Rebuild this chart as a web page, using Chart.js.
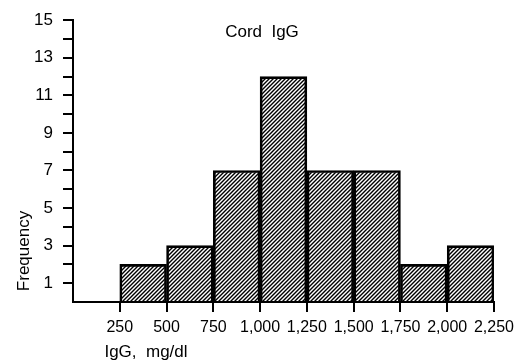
<!DOCTYPE html>
<html>
<head>
<meta charset="utf-8">
<script src="https://cdn.jsdelivr.net/npm/chart.js@4/dist/chart.umd.min.js"></script>
<style>
  html,body{margin:0;padding:0;background:#fff;}
  canvas{display:block;}
</style>
</head>
<body>
<canvas id="ch" width="520" height="362"></canvas>
<script>
// histogram of cord IgG
const binEdges = [250, 500, 750, 1000, 1250, 1500, 1750, 2000, 2250];
const counts = [2, 3, 7, 12, 7, 7, 2, 3];
const xTickValues = [250, 500, 750, 1000, 1250, 1500, 1750, 2000, 2250];
const yLabelValues = [1, 3, 5, 7, 9, 11, 13, 15];
const chartTitle = "Cord  IgG";
const xTitle = "IgG,  mg/dl";
const yTitle = "Frequency";

const FONT = '"Liberation Sans", Arial, sans-serif';

function hatch(){
  const c = document.createElement('canvas');
  c.width = 4; c.height = 4;
  const g = c.getContext('2d');
  g.strokeStyle = '#000';
  g.lineWidth = 1.4;
  g.beginPath();
  g.moveTo(0,4); g.lineTo(4,0);
  g.moveTo(-1,1); g.lineTo(1,-1);
  g.moveTo(3,5); g.lineTo(5,3);
  g.stroke();
  return g.createPattern(c,'repeat');
}

const bars = counts.map((n,i)=>({ x:(binEdges[i]+binEdges[i+1])/2, y:n }));

const texts = {
  id:'texts',
  afterDraw(chart){
    const g = chart.ctx;
    g.save();
    g.fillStyle = '#000';
    g.font = '17px ' + FONT;
    g.textAlign = 'center';
    g.textBaseline = 'middle';
    g.fillText(chartTitle, 262, 32);
    g.fillText(xTitle, 146, 352);
    g.translate(24, 251);
    g.rotate(-Math.PI/2);
    g.fillText(yTitle, 0, 0);
    g.restore();
  }
};

new Chart(document.getElementById('ch'), {
  type:'bar',
  data:{ datasets:[{
    data: bars,
    backgroundColor: hatch(),
    borderColor:'#000',
    borderWidth:2,
    barPercentage:1,
    categoryPercentage:1
  }]},
  options:{
    responsive:false,
    animation:false,
    devicePixelRatio:1,
    layout:{ padding:{ top:17, right:21, left:0, bottom:0 } },
    plugins:{ legend:{display:false}, tooltip:{enabled:false} },
    scales:{
      x:{
        type:'linear', min:0, max:2250, offset:false,
        afterFit(s){ s.height = 60; },
        afterBuildTicks(s){ s.ticks = [0].concat(xTickValues).map(v=>({value:v})); },
        border:{ display:true, color:'#000', width:2 },
        grid:{ offset:false, drawOnChartArea:false, drawTicks:true, tickLength:10, lineWidth:2,
               color: c => (c.tick && c.tick.value === 0) ? 'rgba(0,0,0,0)' : '#000' },
        ticks:{ color:'#000', padding:6, maxRotation:0, autoSkip:false,
                font:{ family:FONT, size:16 },
                callback: v => v === 0 ? '' : v.toLocaleString('en-US') }
      },
      y:{
        min:0, max:15,
        afterFit(s){ s.width = 73; },
        border:{ display:true, color:'#000', width:2 },
        grid:{ drawOnChartArea:false, drawTicks:true, tickLength:10, lineWidth:2,
               color: c => (c.tick && c.tick.value === 0) ? 'rgba(0,0,0,0)' : '#000' },
        ticks:{ stepSize:1, color:'#000', padding:10, autoSkip:false,
                font:{ family:FONT, size:17 },
                callback: v => yLabelValues.includes(v) ? String(v) : '' }
      }
    }
  },
  plugins:[texts]
});
</script>
</body>
</html>
